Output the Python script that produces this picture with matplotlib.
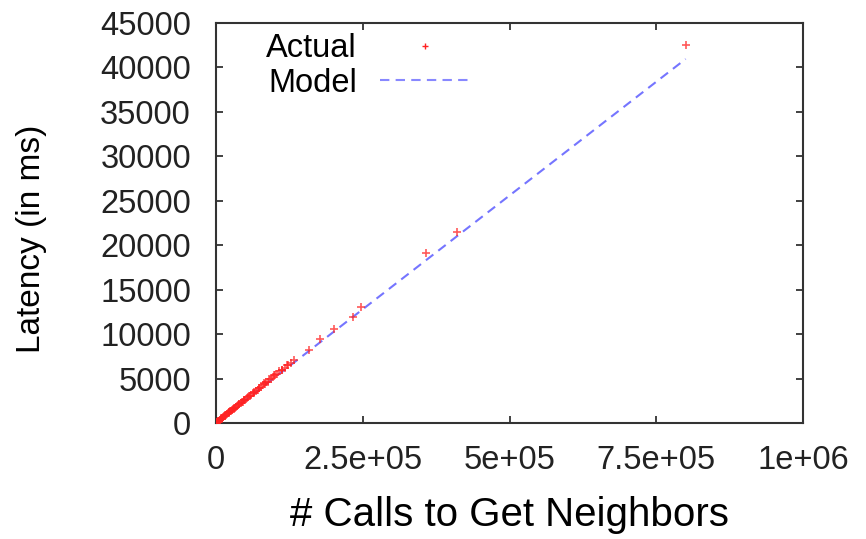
import matplotlib.pyplot as plt
from matplotlib.lines import Line2D

plt.rcParams['font.family'] = ['Liberation Sans', 'DejaVu Sans']

# measured points: number of get-neighbor calls vs latency in ms
calls = [0, 600, 1200, 1800, 2500, 3000, 3800, 4400, 5000, 6500, 7200, 8000,
         9500, 11000, 12500, 14000, 15500, 17000, 18500, 20000, 21500, 23000,
         24500, 26000, 27500, 29000, 30500, 32000, 34000, 36000, 38000, 40000,
         42000, 44000, 46000, 48000, 50000, 52500, 55000, 57500, 60000, 62500,
         65000, 68000, 71000, 74000, 77000, 80000, 83000, 86000, 89000, 93000,
         97000, 99000, 104000, 108000, 113000, 117000, 123000, 127500, 133000,
         158700, 177000, 201000, 234000, 246600, 357000, 411000, 801000,
         9000, 16000, 22000, 31000, 39000, 47000, 56000, 64000, 73000, 82000,
         91000, 101000, 112000, 121000]
latency = [0, 30, 70, 110, 150, 140, 190, 250, 280, 330, 390, 430,
           480, 600, 650, 760, 800, 900, 980, 1080, 1110, 1230,
           1300, 1390, 1420, 1560, 1600, 1710, 1790, 1920, 1990, 2130,
           2200, 2340, 2400, 2560, 2620, 2800, 2870, 3060, 3150, 3320,
           3400, 3620, 3700, 3950, 4020, 4260, 4350, 4600, 4640, 4980,
           5150, 5400, 5500, 5800, 5960, 6200, 6500, 6700, 7090,
           8200, 9500, 10600, 11900, 13000, 19090, 21450, 42560,
           560, 920, 1250, 1700, 2150, 2600, 3050, 3450, 3900, 4450,
           4900, 5450, 6000, 6550]

# linear model fit
model_x = [0, 800000]
model_y = [0, 40950]

xticks = [0, 250000, 500000, 750000, 1000000]
xtick_labels = ['0', '2.5e+05', '5e+05', '7.5e+05', '1e+06']
yticks = [0, 5000, 10000, 15000, 20000, 25000, 30000, 35000, 40000, 45000]

fig = plt.figure(figsize=(8.66, 5.39), dpi=100)
ax = fig.add_axes([0.2494, 0.2152, 0.6779, 0.7421])

ax.plot(model_x, model_y, color='#6666ff', lw=1.5, dashes=(4.5, 3),
        alpha=0.9, zorder=2)
ax.plot(calls, latency, ls='none', marker='+', color='#ff2222',
        markersize=6, mew=1.2, alpha=0.75, zorder=3)

ax.set_xlim(0, 1000000)
ax.set_ylim(0, 45000)
ax.set_xticks(xticks)
ax.set_xticklabels(xtick_labels)
ax.set_yticks(yticks)

for s in ax.spines.values():
    s.set_color('#333333')
    s.set_linewidth(1.5)
ax.tick_params(axis='both', direction='in', length=5, width=1.3,
               color='#333333', labelsize=23.5, labelcolor='#222222',
               top=True, right=True)
ax.tick_params(axis='x', pad=15.5)
ax.tick_params(axis='y', pad=18)

ax.set_xlabel('# Calls to Get Neighbors', fontsize=29)
ax.xaxis.set_label_coords(0.5, -0.183)
ax.set_ylabel('Latency (in ms)', fontsize=24)
ax.yaxis.set_label_coords(-0.287, 0.46)

handles = [
    Line2D([], [], ls='none', marker='+', color='#ff2222', markersize=5, mew=1.0),
    Line2D([], [], color='#8888ff', lw=1.5, dashes=(4.5, 3)),
]
ax.legend(handles, ['Actual', 'Model'], loc='upper left',
          bbox_to_anchor=(0.08, 0.982), frameon=False, markerfirst=False,
          fontsize=23.5, handlelength=2.8, handletextpad=0.7,
          labelspacing=0.1, borderpad=0.1, borderaxespad=0)

fig.savefig('out.png', dpi=100)
